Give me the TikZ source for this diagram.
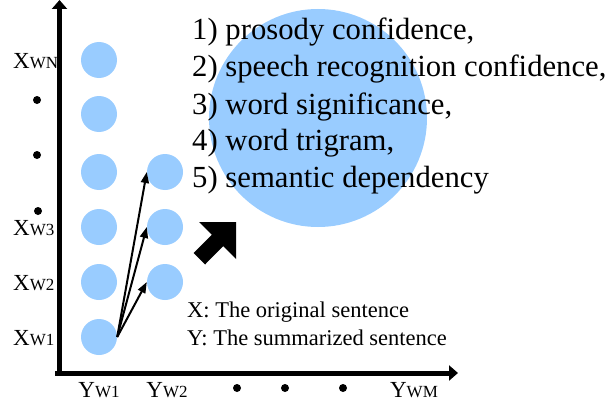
\documentclass[tikz,border=0pt]{standalone}
\usepackage{fontspec}
\setmainfont{Liberation Serif}
\newfontfamily\serifx{Liberation Serif}
\usetikzlibrary{arrows.meta}
\begin{document}
\begin{tikzpicture}[x=1pt,y=-1pt,
  dot/.style={circle,fill=black,minimum size=8pt,inner sep=0pt},
  small/.style={circle,fill=cblue,minimum size=36pt,inner sep=0pt},
  lab/.style={inner sep=0pt,font=\serifx\fontsize{23}{23}\selectfont},
  item/.style={anchor=base west,inner sep=0pt,font=\serifx\fontsize{30.7}{37}\selectfont},
  legend/.style={anchor=base west,inner sep=0pt,font=\serifx\fontsize{22.5}{22.5}\selectfont},
  axis/.style={line width=5pt,-{Triangle[length=9pt,width=15pt]}},
  conn/.style={line width=2pt,-{Triangle[length=11pt,width=8pt]}}]
\definecolor{cblue}{RGB}{153,204,255}
\useasboundingbox (0,0) rectangle (607,404);
% big circle
\node[circle,fill=cblue,minimum size=218pt,inner sep=0pt] (big) at (318,118) {};
% small circles
\node[small] (a1) at (99,337) {};
\node[small] (a2) at (99,282) {};
\node[small] (a3) at (99,227) {};
\node[small] (a4) at (99,172) {};
\node[small] (a5) at (99,114) {};
\node[small] (a6) at (99,60) {};
\node[small] (b1) at (165,282) {};
\node[small] (b2) at (165,227) {};
\node[small] (b3) at (165,172) {};
% axes
\coordinate (o1) at (59.5,376);
\coordinate (ytop) at (59.5,0);
\coordinate (o2) at (55,373);
\coordinate (xend) at (458,373);
\draw[axis] (o1) -- (ytop);
\draw[axis] (o2) -- (xend);
% connectors
\draw[conn] (a1.east) -- (b1.west);
\draw[conn] (a1.east) -- (b2.west);
\draw[conn] (a1.east) -- (b3.west);
% left labels
\newcommand{\sub}[1]{{\fontsize{17}{17}\selectfont #1}}
\node[lab,anchor=base west] (xn) at (13,68) {X\sub{WN}};
\node[lab,anchor=base west] (x3) at (13,235) {X\sub{W3}};
\node[lab,anchor=base west] (x2) at (13,290) {X\sub{W2}};
\node[lab,anchor=base west] (x1) at (13,345) {X\sub{W1}};
\node[dot] (d1) at (37,100) {};
\node[dot] (d2) at (37,155) {};
\node[dot] (d3) at (38,211) {};
% bottom labels
\node[lab,anchor=base] (y1) at (99,397) {Y\sub{W1}};
\node[lab,anchor=base] (y2) at (167,397) {Y\sub{W2}};
\node[lab,anchor=base] (ym) at (414,397) {Y\sub{WM}};
\node[dot] (d4) at (237,388) {};
\node[dot] (d5) at (285,388) {};
\node[dot] (d6) at (343,388) {};
% block arrow
\fill (236,222) -- (199,222) -- (211.8,234.8) -- (193.5,253) -- (205,264.5) -- (223.2,246.2) -- (236,259) -- cycle;
% legend
\node[legend] (lx) at (187,317) {X: The original sentence};
\node[legend] (ly) at (187,345) {Y: The summarized sentence};
% feature list
\node[item] (f1) at (192,40) {1) prosody confidence,};
\node[item] (f2) at (192,77) {2) speech recognition confidence,};
\node[item] (f3) at (192,114) {3) word significance,};
\node[item] (f4) at (192,150.5) {4) word trigram,};
\node[item] (f5) at (192,187) {5) semantic dependency};
\end{tikzpicture}
\end{document}
